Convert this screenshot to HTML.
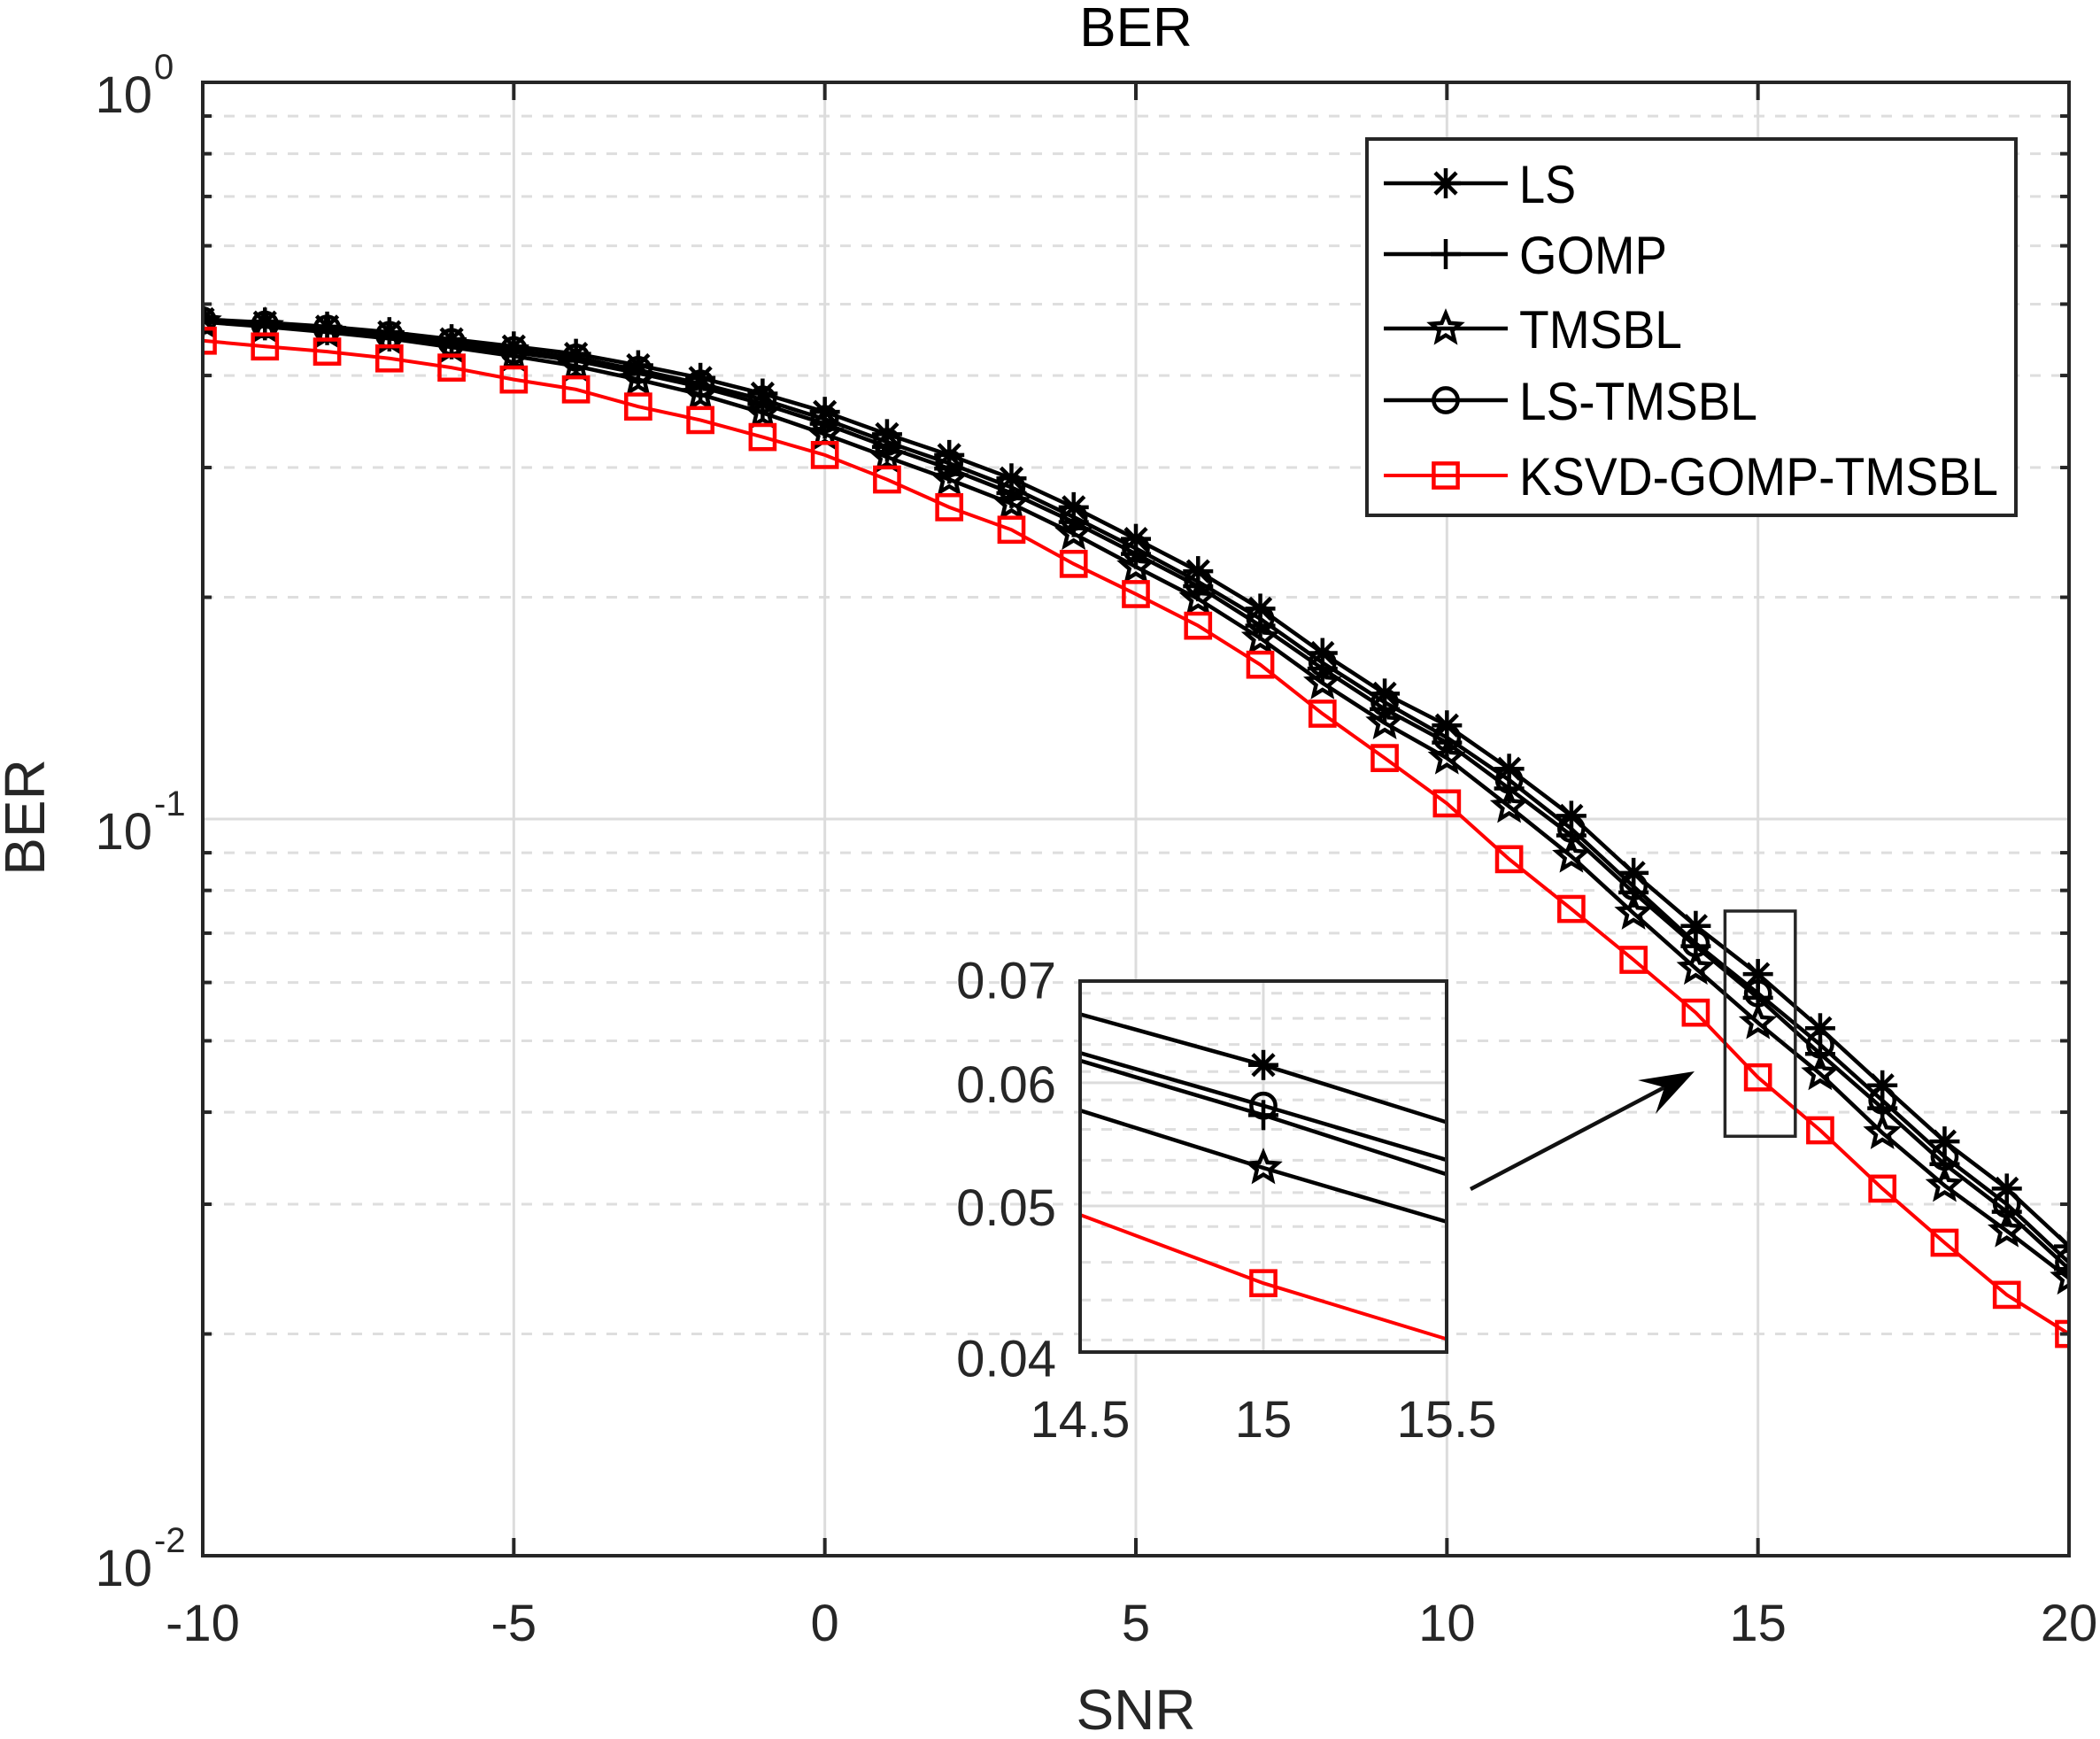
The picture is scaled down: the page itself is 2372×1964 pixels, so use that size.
<!DOCTYPE html>
<html><head><meta charset="utf-8"><style>
html,body{margin:0;padding:0;background:#fff;}
svg{display:block;font-family:"Liberation Sans",Arial,sans-serif;}
</style></head><body>
<svg id="chart" width="2372" height="1964" viewBox="0 0 2372 1964" xmlns="http://www.w3.org/2000/svg">
<defs>
<clipPath id="mainClip"><rect x="229" y="93" width="2108" height="1664"/></clipPath>
<clipPath id="insetClip"><rect x="1220" y="1108" width="414" height="419"/></clipPath>
</defs>
<rect x="0" y="0" width="2372" height="1964" fill="#fff"/>
<g id="grid"></g>
<g id="series" clip-path="url(#mainClip)"></g>
<g id="axes"></g>
<g id="legend"></g>
<g id="inset"></g>
</svg>
<script>
const snr = [-10,-9,-8,-7,-6,-5,-4,-3,-2,-1,0,1,2,3,4,5,6,7,8,9,10,11,12,13,14,15,16,17,18,19,20];
const berLS = [.477,.472,.466,.458,.448,.438,.428,.413,.397,.378,.357,.333,.312,.290,.265,.240,.217,.193,.168,.148,.134,.117,.101,.0845,.0716,.0616,.052,.0435,.0365,.0315,.0263];
const berGOMP = [.474,.468,.461,.452,.441,.430,.419,.403,.386,.366,.344,.320,.299,.277,.253,.229,.207,.183,.160,.141,.127,.110,.095,.0795,.0672,.0572,.048,.0405,.034,.0293,.0245];
const berTMSBL = [.473,.466,.458,.449,.437,.425,.412,.395,.377,.356,.333,.310,.289,.268,.244,.220,.199,.176,.153,.135,.121,.104,.089,.0745,.0627,.0529,.0451,.0375,.0318,.0276,.0238];
const berLSTMSBL = [.475,.469,.463,.454,.444,.433,.423,.407,.390,.371,.349,.325,.304,.282,.257,.233,.210,.187,.163,.144,.129,.113,.097,.0810,.0678,.058,.0494,.0415,.0348,.030,.025];
const berKSVD = [.446,.438,.431,.422,.410,.395,.383,.363,.348,.330,.312,.289,.265,.247,.222,.202,.183,.162,.139,.121,.105,.0882,.0755,.0644,.0546,.0446,.0378,.0315,.0266,.0226,.0200];
const xTicks = [-10,-5,0,5,10,15,20];
const yDecades = [0,-1,-2];
const insetXTicks = [14.5,15,15.5];
const insetYTicks = [0.07,0.06,0.05,0.04];
const insetYTickLabels = ["0.07","0.06","0.05","0.04"];
const seriesNames = ["LS","GOMP","TMSBL","LS-TMSBL","KSVD-GOMP-TMSBL"];

const NS="http://www.w3.org/2000/svg";
const L=229,R=2337,T=93,B=1757;
function xs(v){return L+(v+10)/30*(R-L);}
function ys(v){return T+(-Math.log10(v))/2*(B-T);}
const IL=1220,IR=1634;
function ixs(v){return IL+(v-14.5)*(IR-IL);}
function iys(v){return 1362-(Math.log10(v)-Math.log10(0.05))*1757;}
function mk(tag,attrs,parent){const e=document.createElementNS(NS,tag);for(const k in attrs)e.setAttribute(k,attrs[k]);parent.appendChild(e);return e;}

const grid=document.getElementById('grid');
for(const d of [-1,-2]){for(let m=2;m<=9;m++){const y=ys(m*Math.pow(10,d));
 const g=mk('line',{x1:L,x2:R,y1:y,y2:y,stroke:'#dedede','stroke-width':3,'stroke-dasharray':'12 12'},grid);
 
 }}
for(const d of yDecades){const y=ys(Math.pow(10,d));
 const g=mk('line',{x1:L,x2:R,y1:y,y2:y,stroke:'#dcdcdc','stroke-width':3},grid);
 
 }
for(const t of xTicks){const x=xs(t);
 const g=mk('line',{x1:x,x2:x,y1:T,y2:B,stroke:'#dcdcdc','stroke-width':3},grid);
 
 }

function marker(type,x,y,parent,color,s){
 const g=mk('g',{stroke:color,'stroke-width':4.5,fill:'none'},parent);
 
 
 if(type==='star'){for(const a of [0,45,90,135]){const r=a*Math.PI/180;mk('line',{x1:x-s*Math.cos(r),y1:y-s*Math.sin(r),x2:x+s*Math.cos(r),y2:y+s*Math.sin(r)},g);}}
 else if(type==='plus'){mk('line',{x1:x-s,y1:y,x2:x+s,y2:y},g);mk('line',{x1:x,y1:y-s,x2:x,y2:y+s},g);}
 else if(type==='circle'){mk('circle',{cx:x,cy:y,r:s*0.8},g);}
 else if(type==='square'){mk('rect',{x:x-s*0.8,y:y-s*0.8,width:s*1.6,height:s*1.6},g);}
 else if(type==='pent'){let p=[];for(let i=0;i<10;i++){const r=(i%2?s*0.45:s);const a=-Math.PI/2+i*Math.PI/5;p.push((x+r*Math.cos(a)).toFixed(1)+','+(y+r*Math.sin(a)).toFixed(1));}mk('polygon',{points:p.join(' ')},g);}
}
const defs=[
 {name:'ls',data:berLS,m:'star',c:'#000',w:4.5},
 {name:'gomp',data:berGOMP,m:'plus',c:'#000',w:4.5},
 {name:'tmsbl',data:berTMSBL,m:'pent',c:'#000',w:4.5},
 {name:'ls-tmsbl',data:berLSTMSBL,m:'circle',c:'#000',w:4.5},
 {name:'ksvd-gomp-tmsbl',data:berKSVD,m:'square',c:'#ff0000',w:4}];
const series=document.getElementById('series');
for(const d of defs){
 const g=mk('g',{},series);
 
 
 const pl=mk('polyline',{points:snr.map((x,i)=>xs(x)+','+ys(d.data[i])).join(' '),fill:'none',stroke:d.c,'stroke-width':d.w},g);
 
 
 snr.forEach((x,i)=>marker(d.m,xs(x),ys(d.data[i]),g,d.c,17));
}

const axes=document.getElementById('axes');
const box=mk('rect',{x:L,y:T,width:R-L,height:B-T,fill:'none',stroke:'#262626','stroke-width':4},axes);


for(const t of xTicks){const x=xs(t);
 mk('line',{x1:x,x2:x,y1:B,y2:B-20,stroke:'#262626','stroke-width':4},axes);
 mk('line',{x1:x,x2:x,y1:T,y2:T+20,stroke:'#262626','stroke-width':4},axes);
 const tx=mk('text',{x:x,y:1853,'font-size':58,'text-anchor':'middle',fill:'#262626'},axes);
 tx.textContent=String(t);
 
 }
for(const d of yDecades){const y=ys(Math.pow(10,d));
 const tx=mk('text',{x:172,y:y+34,'font-size':58,'text-anchor':'end',fill:'#262626'},axes);
 tx.textContent='10';
 
 
 const sp=mk('text',{x:174,y:y-4,'font-size':40,'text-anchor':'start',fill:'#262626'},axes);
 sp.textContent=String(d);
 
 }
for(const d of [-1,-2]){for(let m=2;m<=9;m++){const y=ys(m*Math.pow(10,d));
 mk('line',{x1:L,x2:L+10,y1:y,y2:y,stroke:'#262626','stroke-width':4},axes);
 mk('line',{x1:R,x2:R-10,y1:y,y2:y,stroke:'#262626','stroke-width':4},axes);}}
let t1=mk('text',{x:1283,y:52,'font-size':62,'text-anchor':'middle',fill:'#000'},axes);t1.textContent='BER';


let t2=mk('text',{x:1283,y:1953,'font-size':64,'text-anchor':'middle',fill:'#262626'},axes);t2.textContent='SNR';


let t3=mk('text',{x:0,y:0,'font-size':64,'text-anchor':'middle',fill:'#262626',transform:'translate(50,923) rotate(-90)'},axes);t3.textContent='BER';



const lg=document.getElementById('legend');
const lb=mk('rect',{x:1544,y:157,width:733,height:425,fill:'#fff',stroke:'#262626','stroke-width':4},lg);


const rowsY=[207,287,371,452,537];
defs.forEach((d,i)=>{
 const g=mk('g',{},lg);
 
 
 mk('line',{x1:1563,x2:1703,y1:rowsY[i],y2:rowsY[i],stroke:d.c,'stroke-width':d.w},g);
 marker(d.m,1633,rowsY[i],g,d.c,17);
 const tx=mk('text',{x:1716,y:rowsY[i]+22,'font-size':60,fill:'#000',textLength:[64,167,184,269,541][i],lengthAdjust:'spacingAndGlyphs'},g);
 tx.textContent=seriesNames[i];
});

const ins=document.getElementById('inset');
const zr=mk('rect',{x:xs(14.47),y:ys(0.075),width:xs(15.6)-xs(14.47),height:ys(0.0371)-ys(0.075),fill:'none',stroke:'#262626','stroke-width':3.5},ins);


const ar=mk('line',{x1:1661,y1:1343,x2:1880,y2:1228,stroke:'#111','stroke-width':4.5},ins);


const ah=mk('polygon',{points:'1914,1210 1850,1220 1880,1228 1870,1258',fill:'#000'},ins);



mk('rect',{x:IL,y:1108,width:IR-IL,height:419,fill:'#fff'},ins);
const ig=mk('g',{'clip-path':'url(#insetClip)'},ins);


for(let v=0.041;v<0.0705;v+=0.0025){if(Math.abs(v-0.05)<0.001||Math.abs(v-0.06)<0.001)continue;const y=iys(v);
 mk('line',{x1:IL,x2:IR,y1:y,y2:y,stroke:'#dedede','stroke-width':3,'stroke-dasharray':'12 12'},ig);}
for(const v of [0.05,0.06]){const y=iys(v);mk('line',{x1:IL,x2:IR,y1:y,y2:y,stroke:'#dcdcdc','stroke-width':3},ig);}
mk('line',{x1:ixs(15),x2:ixs(15),y1:1108,y2:1527,stroke:'#dcdcdc','stroke-width':3},ig);
for(const d of defs){
 const g=mk('g',{},ig);
 
 
 const pts=[];
 for(let i=0;i<snr.length;i++){if(snr[i]>=13&&snr[i]<=17)pts.push(ixs(snr[i])+','+iys(d.data[i]));}
 mk('polyline',{points:pts.join(' '),fill:'none',stroke:d.c,'stroke-width':d.w},g);
 const i15=snr.indexOf(15);
 marker(d.m,ixs(15),iys(d.data[i15]),g,d.c,17);
}
const ibox=mk('rect',{x:IL,y:1108,width:IR-IL,height:419,fill:'none',stroke:'#262626','stroke-width':4},ins);


insetYTicks.forEach((v,i)=>{
 const tx=mk('text',{x:1193,y:iys(v)+22,'font-size':58,'text-anchor':'end',fill:'#262626'},ins);
 tx.textContent=insetYTickLabels[i];
 
 });
insetXTicks.forEach(v=>{
 const tx=mk('text',{x:ixs(v),y:1623,'font-size':58,'text-anchor':'middle',fill:'#262626'},ins);
 tx.textContent=String(v);
 
 });
</script>
</body></html>
